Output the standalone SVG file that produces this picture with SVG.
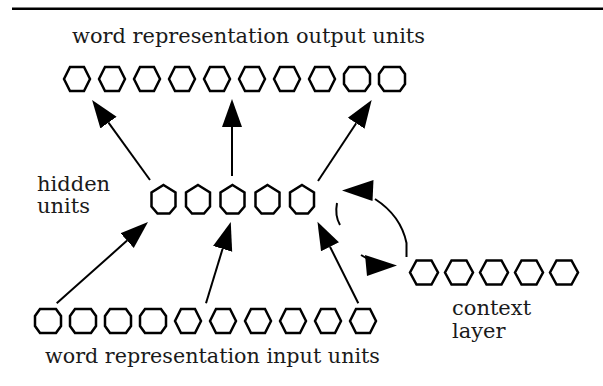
<svg xmlns="http://www.w3.org/2000/svg" xmlns:xlink="http://www.w3.org/1999/xlink" width="603" height="386" viewBox="0 0 603 386">
<style>
.u{fill:#fff;stroke:#000;stroke-width:2.5;stroke-linejoin:miter}
.ln{stroke:#000;stroke-width:2;fill:none}
.hd{fill:#000;stroke:none}
text{font-family:"DejaVu Serif","Liberation Serif",serif;font-size:21px;fill:#1a1a1a}
</style>
<defs>
<polygon id="hx" class="u" points="-13,0 -7,-12 7,-12 13,0 7,12 -7,12"/>
<polygon id="oc" class="u" points="-13,-5 -8,-12 8,-12 13,-5 13,5 8,12 -8,12 -13,5"/>
<polygon id="hc" class="u" points="-14,0 -7.5,-12 7.5,-12 14,0 7.5,12 -7.5,12"/>
<polygon id="hh" class="u" points="0,-14.5 12,-7 12,7 6,14 -6,14 -12,7 -12,-7"/>
<marker id="ah" markerUnits="userSpaceOnUse" markerWidth="29" markerHeight="22" viewBox="0 -11 29 22" refX="0" refY="0" orient="auto"><path d="M0,-10 L28,0 L0,10 z" fill="#000"/></marker>
</defs>
<rect x="12" y="7.5" width="591" height="2.5" fill="#000"/>
<g id="output-layer">
<text x="72" y="43" textLength="353" lengthAdjust="spacingAndGlyphs">word representation output units</text>
<use href="#hx" x="77" y="79"/>
<use href="#hx" x="112" y="79"/>
<use href="#hx" x="147" y="79"/>
<use href="#hx" x="182" y="79"/>
<use href="#hx" x="217" y="79"/>
<use href="#hx" x="252" y="79"/>
<use href="#hx" x="287" y="79"/>
<use href="#hx" x="322" y="79"/>
<use href="#oc" x="357" y="79"/>
<use href="#oc" x="392" y="79"/>
</g>
<g id="hidden-layer">
<text x="37" y="191">hidden</text>
<text x="37" y="213">units</text>
<use href="#hh" x="163.5" y="199.5"/>
<use href="#hh" x="198" y="199.5"/>
<use href="#hh" x="232.5" y="199.5"/>
<use href="#hh" x="267.5" y="199.5"/>
<use href="#hh" x="302" y="199.5"/>
</g>
<g id="context-layer">
<use href="#hc" x="424" y="272.5"/>
<use href="#hc" x="459" y="272.5"/>
<use href="#hc" x="494" y="272.5"/>
<use href="#hc" x="529" y="272.5"/>
<use href="#hc" x="564" y="272.5"/>
<text x="452" y="315">context</text>
<text x="452" y="338">layer</text>
</g>
<g id="input-layer">
<use href="#oc" x="48" y="321"/>
<use href="#oc" x="83" y="321"/>
<use href="#oc" x="118" y="321"/>
<use href="#oc" x="153" y="321"/>
<use href="#hx" x="188" y="321"/>
<use href="#hx" x="223" y="321"/>
<use href="#hx" x="258" y="321"/>
<use href="#hx" x="293" y="321"/>
<use href="#hx" x="328" y="321"/>
<use href="#hx" x="363" y="321"/>
<text x="45" y="363" textLength="335" lengthAdjust="spacingAndGlyphs">word representation input units</text>
</g>
<g id="connectors">
<path class="ln" d="M150,180 L108.5,122.6" marker-end="url(#ah)"/>
<path class="ln" d="M232,176 L232,127" marker-end="url(#ah)"/>
<path class="ln" d="M318,181 L356.2,123.3" marker-end="url(#ah)"/>
<path class="ln" d="M56.7,303.3 L127.1,240.6" marker-end="url(#ah)"/>
<path class="ln" d="M206,303.3 L222.6,248.8" marker-end="url(#ah)"/>
<path class="ln" d="M358.3,303.3 L330,246.8" marker-end="url(#ah)"/>
<path class="ln" d="M406.5,257 L406.5,243 C403,226 392,210 375,199"/>
<polygon class="hd" points="342,190.5 373.5,180 372.5,201"/>
<path class="ln" d="M337,203 C335.5,211 336.5,219 340,225"/>
<path class="ln" d="M361,255 L367,258.5"/>
<polygon class="hd" points="365,255 397,265.5 367,276"/>
</g>
</svg>
